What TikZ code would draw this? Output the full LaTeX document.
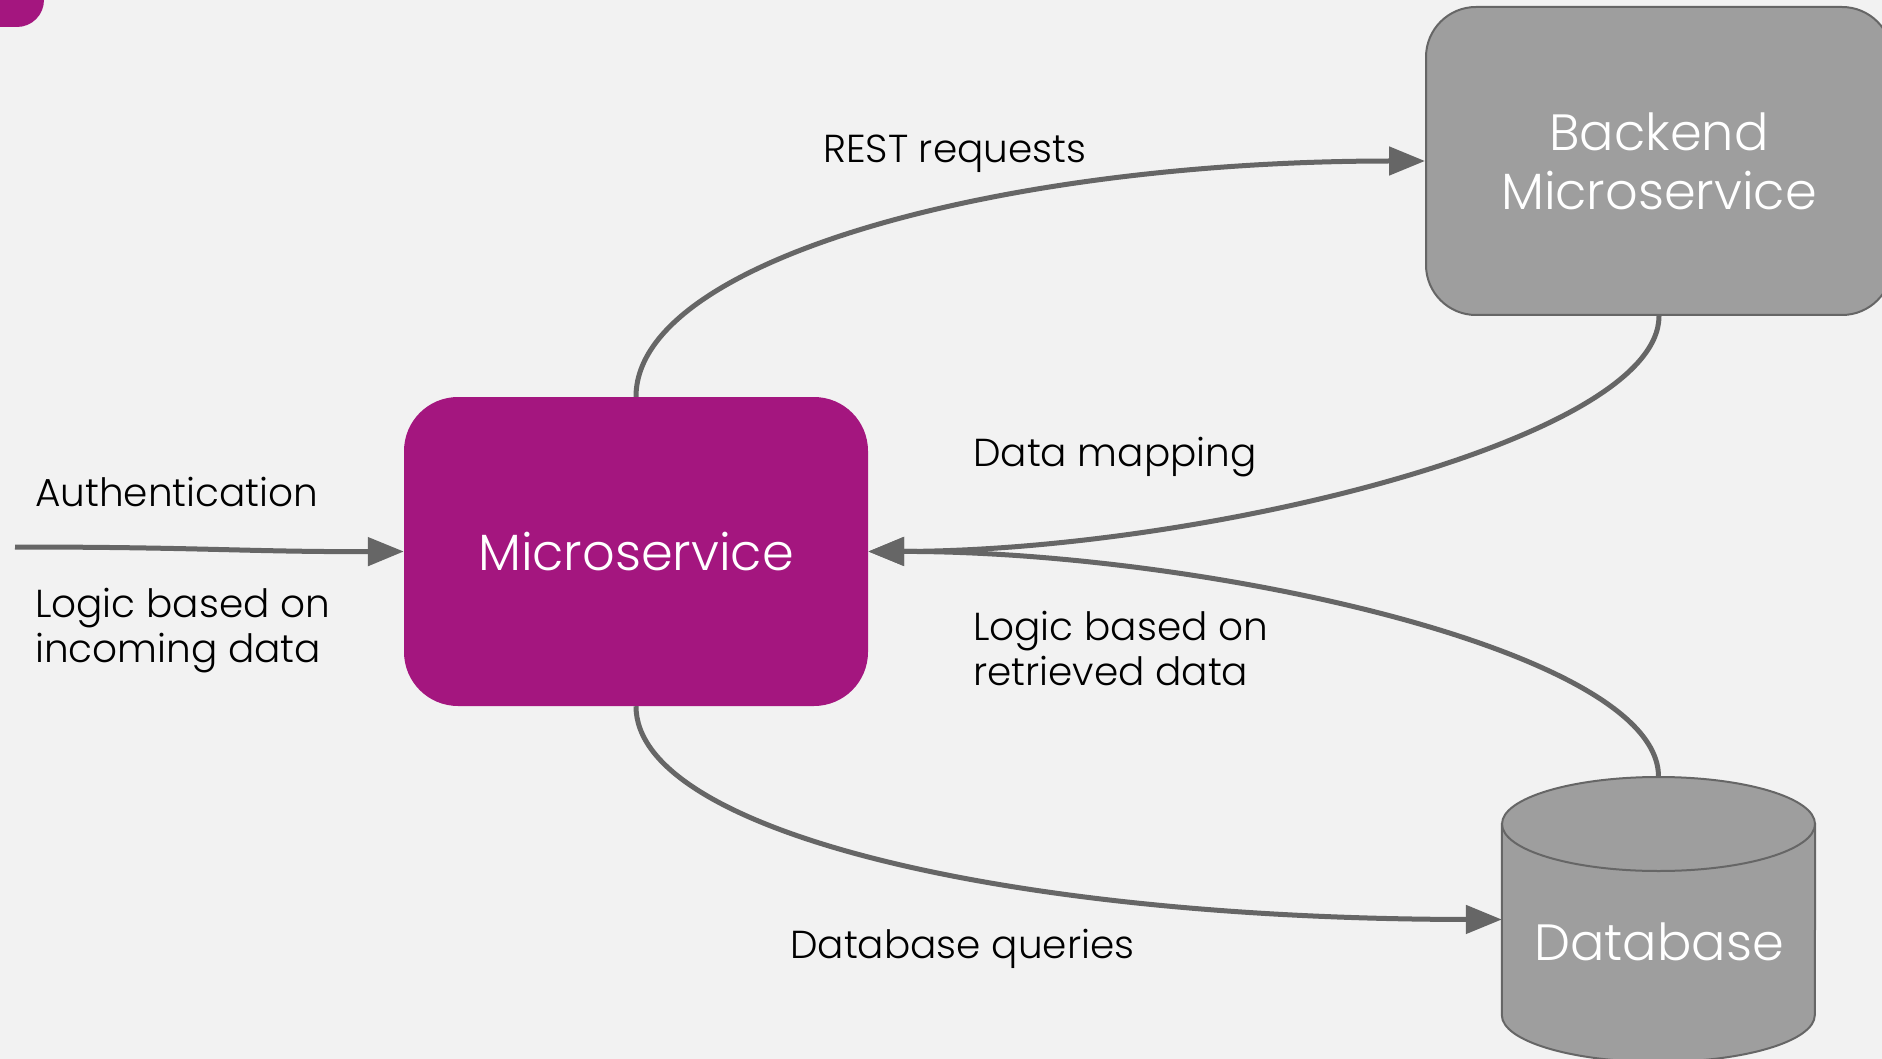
\documentclass[tikz,border=0pt]{standalone}
\usepackage{fontspec}
\setmainfont{Poppins}[UprightFont=* Light]
\usetikzlibrary{arrows.meta}
\definecolor{bg}{HTML}{F2F2F2}
\definecolor{msp}{HTML}{A4167F}
\definecolor{boxg}{HTML}{9E9E9E}
\definecolor{edge}{HTML}{666666}
\begin{document}
\begin{tikzpicture}[x=1pt,y=-1pt,
  conn/.style={draw=edge,line width=5pt,-{Triangle[length=36pt,width=28pt]}},
  lbl/.style={anchor=west,align=left,font=\fontsize{39}{45}\selectfont,text=black,inner sep=0pt},
  boxtext/.style={text=white,font=\fontsize{51}{59}\selectfont,align=center}]
\useasboundingbox (0,0) rectangle (1882,1059);
\clip (0,0) rectangle (1882,1059);
\fill[bg] (0,0) rectangle (1882,1059);
\fill[msp, rounded corners=27pt] (-60,-60) rectangle (44,27);
\node[boxtext, fill=msp, rounded corners=54pt, minimum width=464pt, minimum height=309pt] (ms) at (636,551.5) {Microservice};
\node[boxtext, fill=boxg, draw=edge, line width=2pt, rounded corners=50pt, minimum width=466pt, minimum height=308pt] (be) at (1659,161) {Backend\\Microservice};
\node[minimum width=313pt, minimum height=285pt, inner sep=0pt] (db) at (1658.5,919.5) {};
\path[fill=boxg, draw=edge, line width=2pt] (db.west |- 0,824) -- (db.west |- 0,1015) arc[start angle=180, end angle=360, x radius=156.5pt, y radius=47pt] -- (db.east |- 0,824) -- cycle;
\draw[fill=boxg, draw=edge, line width=2pt] (db.north |- 0,824) ellipse [x radius=156.5pt, y radius=47pt];
\node[boxtext] (dbt) at (1659,942) {Database};
\node[lbl] (l1) at (823,154) {REST requests};
\node[lbl] (l2) at (973,457) {Data mapping};
\node[lbl] (l3) at (35,492) {Authentication};
\node[lbl] (l4) at (35,631) {Logic based on\\incoming data};
\node[lbl] (l5) at (973,648) {Logic based on\\retrieved data};
\node[lbl] (l6) at (790,949) {Database queries};
\coordinate (authstart) at (15,547);
\draw[conn] (authstart) .. controls (200,547) and (250,552) .. (ms.west);
\draw[conn] (ms.north) .. controls (636,260) and (1000,161) .. (be.west);
\draw[conn] (be.south) .. controls (1659,440) and (1200,551) .. (ms.east);
\draw[conn] (db.north) .. controls (1659,650) and (1200,551) .. (ms.east);
\draw[conn] (ms.south) .. controls (636,830) and (1000,919) .. (db.west);
\end{tikzpicture}
\end{document}
